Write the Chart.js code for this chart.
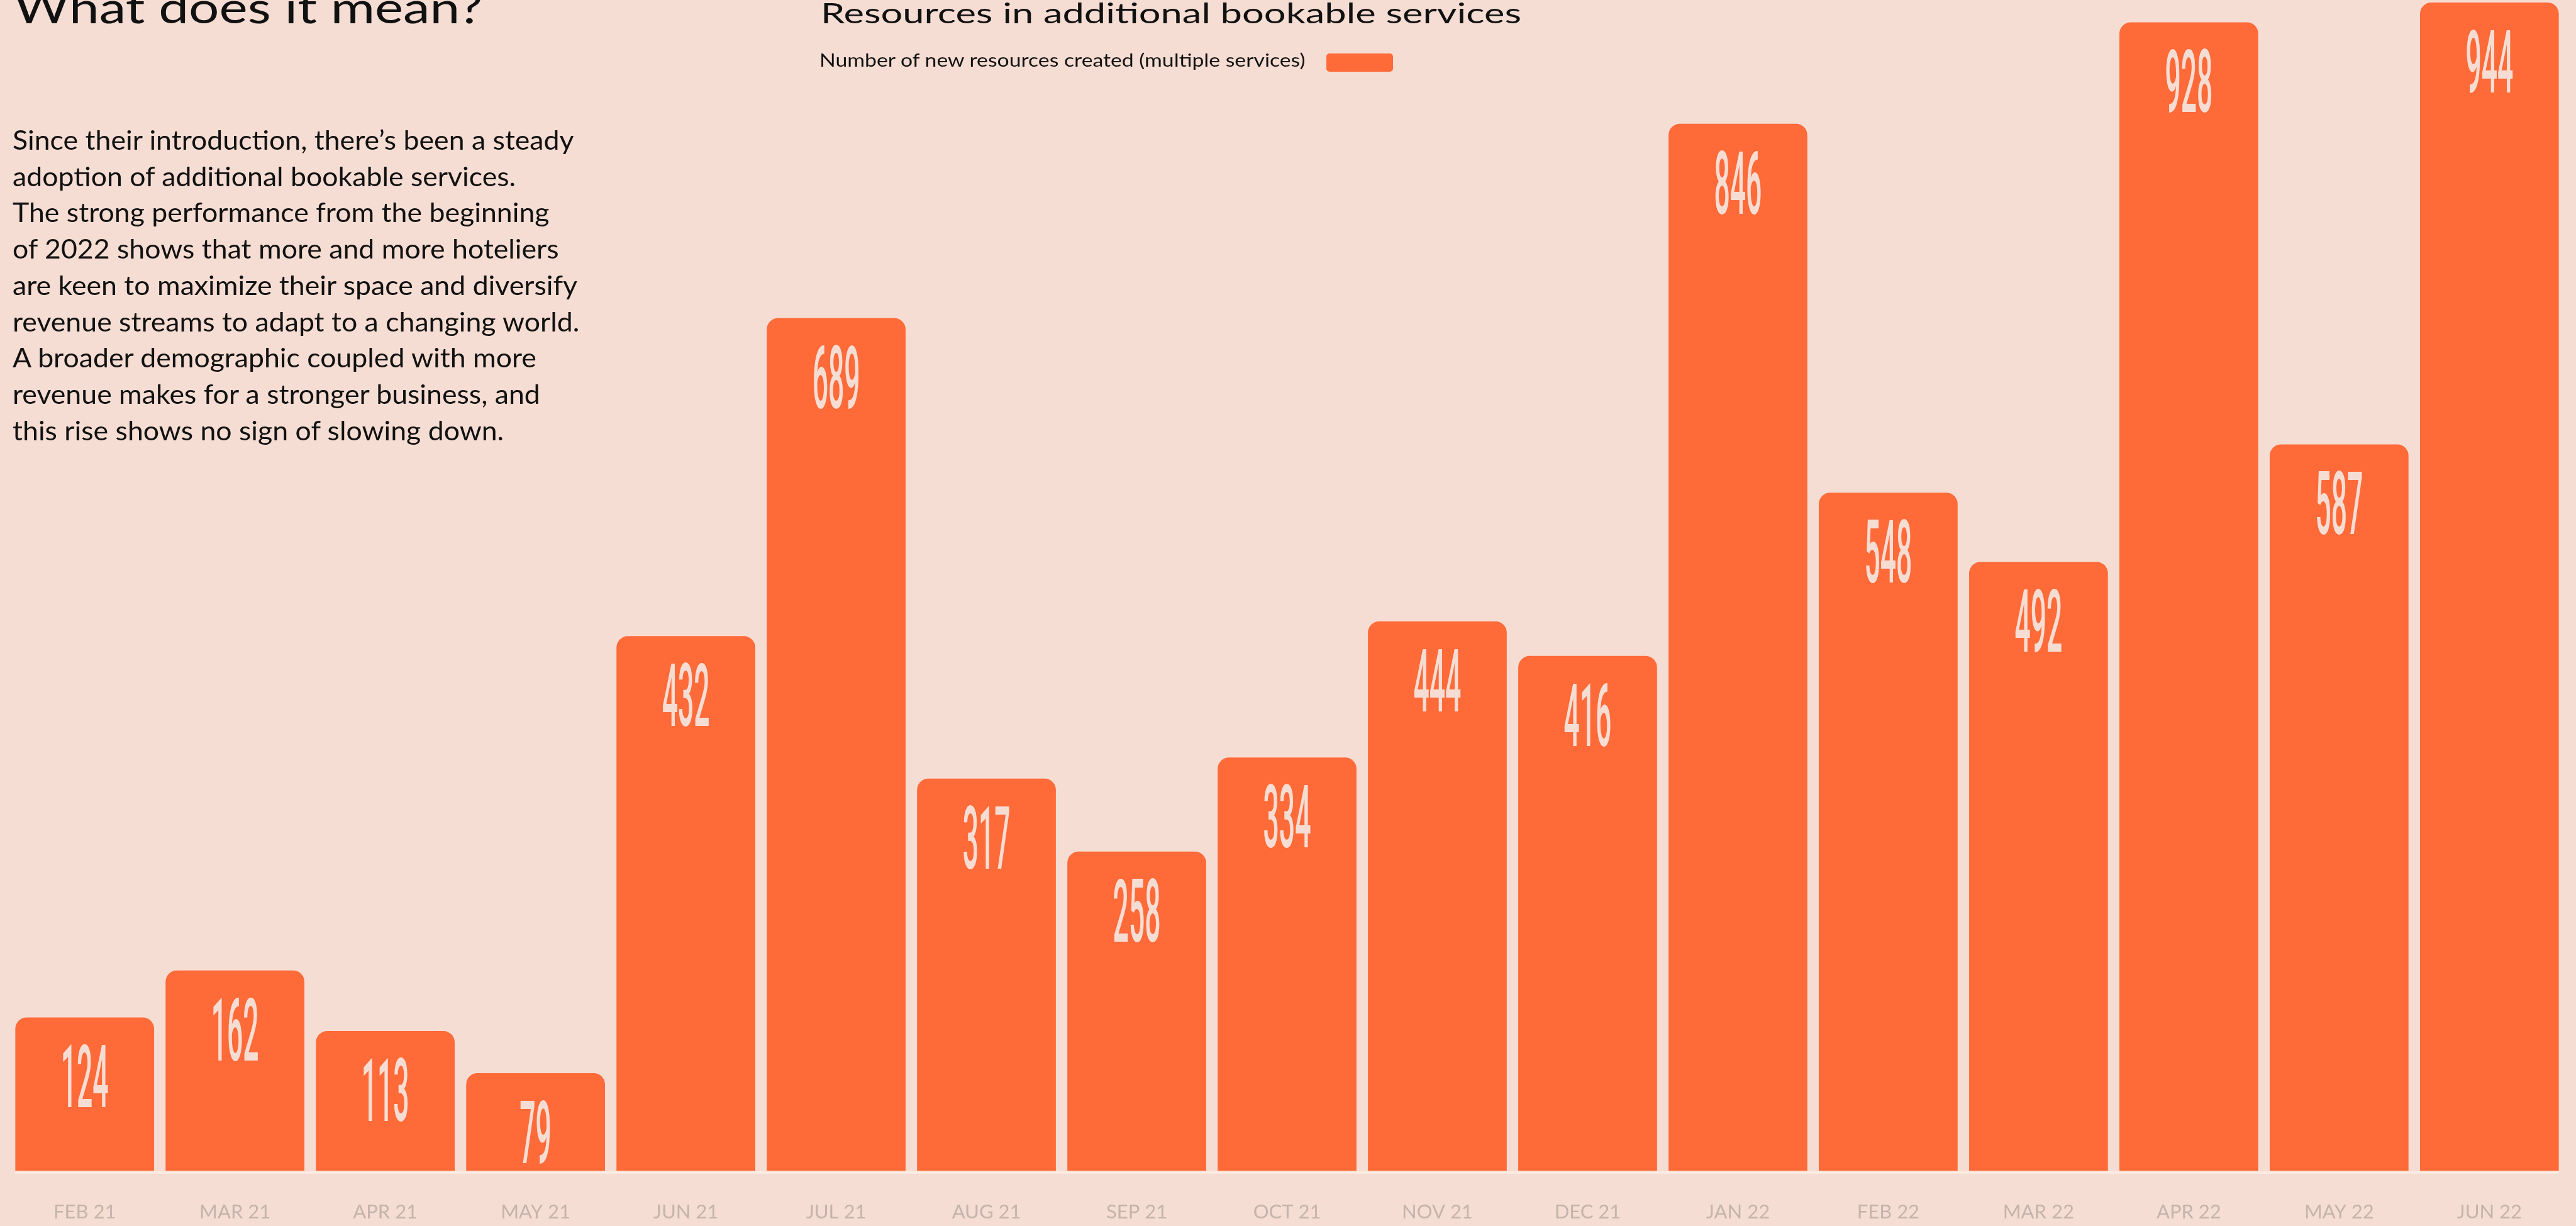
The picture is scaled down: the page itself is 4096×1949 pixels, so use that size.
<!DOCTYPE html>
<html>
<head>
<meta charset="utf-8">
<title>Resources in additional bookable services</title>
<script src="https://cdn.jsdelivr.net/npm/chart.js@4.4.0/dist/chart.umd.min.js"></script>
<style>
  html, body { margin: 0; padding: 0; background: #f6ddd3; overflow: hidden; }
  #page { position: relative; width: 4096px; height: 1949px; }
  #chart { position: absolute; left: 0; top: 0; }
  .txt {
    position: absolute;
    white-space: nowrap;
    font-family: Lato, "Open Sans", sans-serif;
    color: #111;
    transform-origin: 0 0;
  }
  #intro-title { left: 22px; top: -24px; font-size: 69px; line-height: 69px; }
  #intro-text { left: 20px; top: 194px; font-size: 41.7px; line-height: 57.7px; }
  #chart-title { left: 1305px; top: -1px; font-size: 43.6px; line-height: 43.6px; }
  #legend-text { left: 1303px; top: 80px; font-size: 29px; line-height: 29px; }
  #legend-swatch { position: absolute; left: 2109px; top: 85px; width: 106px; height: 29px; border-radius: 5px; }
</style>
</head>
<body>
<div id="page">
  <canvas id="chart" width="4096" height="1949"></canvas>
  <div class="txt" id="intro-title">What does it mean?</div>
  <div class="txt" id="intro-text"><span id="intro-first">Since their introduction, there’s been a steady</span><br>adoption of additional bookable services.<br>The strong performance from the beginning<br>of 2022 shows that more and more hoteliers<br>are keen to maximize their space and diversify<br>revenue streams to adapt to a changing world.<br>A broader demographic coupled with more<br>revenue makes for a stronger business, and<br>this rise shows no sign of slowing down.</div>
  <div class="txt" id="chart-title">Resources in additional bookable services</div>
  <div class="txt" id="legend-text">Number of new resources created (multiple services)</div>
  <div id="legend-swatch"></div>
</div>

<script>
// Monthly counts of new resources created in additional bookable services
const months = ['FEB 21', 'MAR 21', 'APR 21', 'MAY 21', 'JUN 21', 'JUL 21', 'AUG 21', 'SEP 21',
                'OCT 21', 'NOV 21', 'DEC 21', 'JAN 22', 'FEB 22', 'MAR 22', 'APR 22', 'MAY 22', 'JUN 22'];
const resourcesCreated = [124, 162, 113, 79, 432, 689, 317, 258, 334, 444, 416, 846, 548, 492, 928, 587, 944];
const seriesLabel = 'Number of new resources created (multiple services)';

const BG = '#f6ddd3';
const BAR = '#ff6a39';
const AXIS_TEXT = '#c4b4ab';
const BASELINE = '#fdece2';

// Stretch a text block horizontally so it spans the given width
function stretchTo(el, width, measureEl) {
    const natural = (measureEl || el).getBoundingClientRect().width;
    el.style.transform = `scaleX(${width / natural})`;
}

// Value labels inside the bar tops, plus the light strip under the bars
const barLabels = {
    id: 'barLabels',
    afterDatasetsDraw(chart) {
        const ctx = chart.ctx;
        const meta = chart.getDatasetMeta(0);
        ctx.save();
        ctx.fillStyle = BG;
        ctx.font = '500 139px Roboto';
        ctx.textAlign = 'center';
        ctx.textBaseline = 'alphabetic';
        meta.data.forEach((bar, i) => {
            ctx.save();
            ctx.translate(bar.x, bar.y + 143);
            ctx.scale(0.32, 1);
            ctx.fillText(String(chart.data.datasets[0].data[i]), 0, 0);
            ctx.restore();
        });

        const first = meta.data[0];
        const last = meta.data[meta.data.length - 1];
        const left = first.x - first.width / 2;
        const right = last.x + last.width / 2;
        ctx.fillStyle = BASELINE;
        ctx.fillRect(left, chart.chartArea.bottom + 0.8, right - left, 3.5);
        ctx.restore();
    }
};

document.getElementById('legend-swatch').style.background = BAR;

new Chart(document.getElementById('chart'), {
    type: 'bar',
    data: {
        labels: months,
        datasets: [{
            label: seriesLabel,
            data: resourcesCreated,
            backgroundColor: BAR,
            borderWidth: 0,
            borderRadius: { topLeft: 18, topRight: 18, bottomLeft: 0, bottomRight: 0 },
            borderSkipped: 'bottom',
            barPercentage: 0.9236,
            categoryPercentage: 1
        }]
    },
    options: {
        responsive: false,
        devicePixelRatio: 1,
        animation: false,
        layout: { padding: { left: 15.2, right: 18.2, top: 0, bottom: 0 } },
        scales: {
            x: {
                grid: { display: false, drawTicks: false },
                border: { display: false },
                ticks: {
                    color: AXIS_TEXT,
                    font: { family: 'Lato', size: 31 },
                    padding: 46.5,
                    maxRotation: 0,
                    autoSkip: false
                },
                afterFit(scale) { scale.height = 87.6; }
            },
            y: {
                display: false,
                min: 0,
                max: 946
            }
        },
        plugins: {
            legend: { display: false },
            title: { display: false },
            tooltip: { enabled: false }
        }
    },
    plugins: [barLabels]
});

stretchTo(document.getElementById('intro-title'), 745.6);
stretchTo(document.getElementById('intro-text'), 892.5, document.getElementById('intro-first'));
stretchTo(document.getElementById('chart-title'), 1114);
stretchTo(document.getElementById('legend-text'), 772.5);
</script>
</body>
</html>
